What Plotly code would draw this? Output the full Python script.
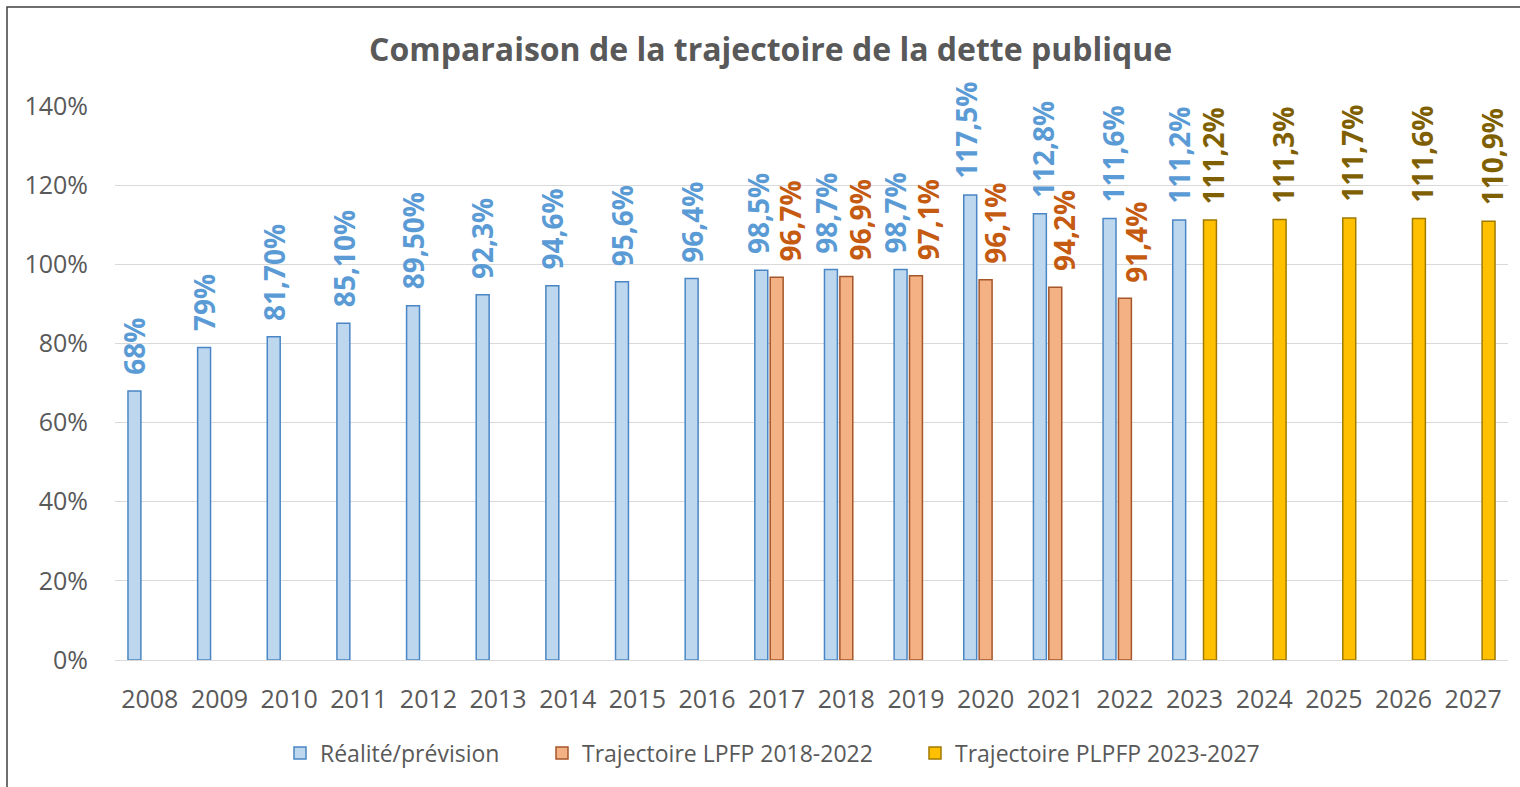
import plotly.graph_objects as go

years = [str(y) for y in range(2008, 2028)]

real_years = [str(y) for y in range(2008, 2024)]
real_values = [68.0, 79.0, 81.7, 85.1, 89.5, 92.3, 94.6, 95.6, 96.4, 98.5, 98.7, 98.7, 117.5, 112.8, 111.6, 111.2]
real_labels = ["68%", "79%", "81,70%", "85,10%", "89,50%", "92,3%", "94,6%", "95,6%", "96,4%",
               "98,5%", "98,7%", "98,7%", "117,5%", "112,8%", "111,6%", "111,2%"]

lpfp_years = [str(y) for y in range(2017, 2023)]
lpfp_values = [96.7, 96.9, 97.1, 96.1, 94.2, 91.4]
lpfp_labels = ["96,7%", "96,9%", "97,1%", "96,1%", "94,2%", "91,4%"]

plpfp_years = [str(y) for y in range(2023, 2028)]
plpfp_values = [111.2, 111.3, 111.7, 111.6, 110.9]
plpfp_labels = ["111,2%", "111,3%", "111,7%", "111,6%", "110,9%"]

y_ticks = [0, 20, 40, 60, 80, 100, 120, 140]
y_tick_labels = ["0%", "20%", "40%", "60%", "80%", "100%", "120%", "140%"]

# label placement (pixel nudges, style only)
SLOT = 15.4
real_nudge = [0, 0, 0, 0, 0, 0, 0, 0, 0, -4, -5, -6, -5, 3, 3, 0]
lpfp_nudge = [13, 14, 12, 10, 8, 11]
plpfp_nudge = [3, 3, 3, 3, 3]

FONT = "Open Sans"
GREY = "#595959"
LABEL_SIZE = 28

fig = go.Figure()
fig.add_trace(go.Bar(name="Réalité/prévision", x=real_years, y=real_values, legend="legend",
                     marker=dict(color="#BDD7EE", line=dict(color="#4A86C5", width=1.5))))
fig.add_trace(go.Bar(name="Trajectoire LPFP 2018-2022", x=lpfp_years, y=lpfp_values, legend="legend2",
                     marker=dict(color="#F4B183", line=dict(color="#A5562A", width=1.5))))
fig.add_trace(go.Bar(name="Trajectoire PLPFP 2023-2027", x=plpfp_years, y=plpfp_values, legend="legend3",
                     marker=dict(color="#FFC000", line=dict(color="#A07A00", width=1.5))))

annotations = []
for xs, ys, labs, nudges, slot, col in [
    (real_years, real_values, real_labels, real_nudge, -SLOT, "#5B9BD5"),
    (lpfp_years, lpfp_values, lpfp_labels, lpfp_nudge, 0, "#C55A11"),
    (plpfp_years, plpfp_values, plpfp_labels, plpfp_nudge, SLOT, "#7F6000"),
]:
    for x, y, t, n in zip(xs, ys, labs, nudges):
        annotations.append(dict(
            x=years.index(x), y=y, xref="x", yref="y", text=t, showarrow=False,
            textangle=-90, xanchor="center", yanchor="bottom",
            xshift=slot + n, yshift=14,
            font=dict(family=FONT, size=LABEL_SIZE, color=col, weight="bold"),
        ))

legend_common = dict(orientation="h", xanchor="left", y=-0.168, yanchor="middle",
                     font=dict(family=FONT, size=23, color=GREY), itemwidth=30,
                     bgcolor="rgba(0,0,0,0)")

fig.update_layout(
    width=1520, height=787,
    margin=dict(l=115, r=12, t=106, b=127),
    paper_bgcolor="white", plot_bgcolor="white",
    barmode="group", bargap=0.337, bargroupgap=0.16,
    font=dict(family=FONT, color=GREY),
    title=dict(text="<b>Comparaison de la trajectoire de la dette publique</b>",
               x=0.507, xref="container", xanchor="center",
               y=1 - 50 / 787, yref="container", yanchor="middle",
               font=dict(family=FONT, size=32, color=GREY)),
    legend=dict(x=(280 - 115) / 1393, **legend_common),
    legend2=dict(x=(542 - 115) / 1393, **legend_common),
    legend3=dict(x=(915 - 115) / 1393, **legend_common),
    showlegend=True,
    annotations=annotations,
    shapes=[dict(type="rect", xref="paper", yref="paper",
                 x0=(7 - 115) / 1393, x1=(1530 - 115) / 1393,
                 y0=(660 - 800) / 554, y1=(660 - 7) / 554,
                 line=dict(color="#404040", width=1.5), layer="below")],
)

fig.update_xaxes(categoryorder="array", categoryarray=years, type="category",
                 range=[-0.5, len(years) - 0.5], autorange=False,
                 tickfont=dict(family=FONT, size=25, color=GREY),
                 showline=True, linecolor="#D9D9D9", linewidth=1,
                 ticks="", showgrid=False, ticklabelstandoff=17)
fig.update_yaxes(range=[0, 140], autorange=False, tickmode="array", tickvals=y_ticks,
                 ticktext=y_tick_labels,
                 tickfont=dict(family=FONT, size=25, color=GREY),
                 showgrid=True, gridcolor="#D9D9D9", gridwidth=1,
                 zeroline=False, showline=False, ticks="", ticklabelstandoff=26)

fig.write_html("out.html", config={"displayModeBar": False},
               post_script="document.body.style.margin='0';")
